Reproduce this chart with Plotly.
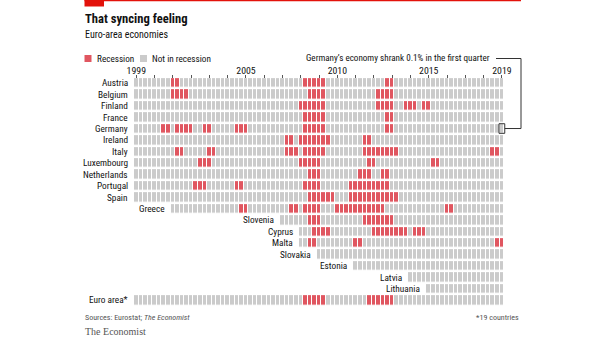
import numpy as np
import plotly.graph_objects as go

# ---------------- data ----------------
countries = ["Austria", "Belgium", "Finland", "France", "Germany", "Ireland", "Italy",
             "Luxembourg", "Netherlands", "Portugal", "Spain", "Greece", "Slovenia",
             "Cyprus", "Malta", "Slovakia", "Estonia", "Latvia", "Lithuania", "Euro area*"]
joined = ["1999Q1"] * 11 + ["2001Q1", "2007Q1", "2008Q1", "2008Q1", "2009Q1",
                            "2011Q1", "2014Q1", "2015Q1", "1999Q1"]
first_quarter = "1999Q1"
last_quarter = "2019Q1"

austria = [("2001Q1", "2001Q2"), ("2008Q2", "2009Q2"), ("2012Q4", "2013Q1")]
belgium = [("2001Q1", "2001Q4"), ("2008Q3", "2009Q2"), ("2012Q2", "2013Q1")]
finland = [("2008Q1", "2009Q2"), ("2012Q2", "2013Q1"), ("2013Q4", "2014Q2"), ("2014Q4", "2015Q1")]
france = [("2008Q2", "2009Q2"), ("2012Q4", "2013Q1")]
germany = [("2000Q3", "2000Q4"), ("2001Q2", "2002Q1"), ("2002Q4", "2003Q1"),
           ("2004Q3", "2005Q1"), ("2008Q2", "2009Q2"), ("2012Q4", "2013Q1")]
ireland = [("2007Q2", "2007Q3"), ("2008Q1", "2009Q3"), ("2011Q3", "2011Q4")]
italy = [("2001Q2", "2001Q3"), ("2003Q1", "2003Q2"), ("2007Q2", "2007Q4"),
         ("2008Q2", "2009Q2"), ("2011Q3", "2013Q2"), ("2018Q3", "2018Q4")]
luxembourg = [("2002Q3", "2003Q1"), ("2008Q1", "2009Q1"), ("2011Q4", "2012Q1"), ("2015Q2", "2015Q3")]
netherlands = [("2008Q3", "2009Q1"), ("2011Q2", "2011Q4"), ("2012Q3", "2012Q4")]
portugal = [("2002Q2", "2002Q4"), ("2004Q3", "2004Q4"), ("2008Q2", "2009Q1"), ("2010Q4", "2012Q4")]
spain = [("2008Q3", "2009Q4"), ("2010Q4", "2013Q2")]
greece = [("2004Q4", "2005Q1"), ("2007Q3", "2007Q4"), ("2008Q2", "2009Q1"),
          ("2010Q1", "2012Q3"), ("2016Q1", "2016Q2")]
slovenia = [("2008Q3", "2009Q1"), ("2011Q3", "2013Q1")]
cyprus = [("2008Q4", "2009Q3"), ("2012Q1", "2013Q4"), ("2014Q2", "2014Q4")]
malta = [("2008Q3", "2008Q4"), ("2011Q1", "2011Q2"), ("2018Q4", "2019Q1")]
slovakia = []
estonia = []
latvia = []
lithuania = []
euro_area = [("2008Q2", "2009Q2"), ("2011Q4", "2013Q1")]

spells = [austria, belgium, finland, france, germany, ireland, italy, luxembourg,
          netherlands, portugal, spain, greece, slovenia, cyprus, malta, slovakia,
          estonia, latvia, lithuania, euro_area]

tick_years = ["1999", "2005", "2010", "2015", "2019"]
minor_years = [str(y) for y in range(1999, 2020)]

# ---------------- build matrix ----------------
def qidx(s):
    return (int(s[:4]) - int(first_quarter[:4])) * 4 + int(s[-1]) - 1

n_q = qidx(last_quarter) + 1
z = np.full((len(countries), n_q), np.nan)
for r, (j, sp) in enumerate(zip(joined, spells)):
    z[r, qidx(j):] = 0
    for a, b in sp:
        z[r, qidx(a):qidx(b) + 1] = 1

RED = "#E05660"
GREY = "#CBCBCB"
FONT = "Liberation Sans Narrow, Arial Narrow, Roboto Condensed, Roboto, sans-serif"
W, H = 605, 341

# axis mapping (pixels)
pitch = 4.57
x0 = -0.5 - 134.0 / pitch
x1 = x0 + W / pitch
row_pitch = 11.43
row0 = 82.8
y_top = -row0 / row_pitch
y_bot = (H - row0) / row_pitch

def px(x):
    return x / W

def py(y):
    return 1 - y / H

fig = go.Figure()
fig.add_trace(go.Heatmap(
    z=z, x=list(range(n_q)), y=list(range(len(countries))),
    xgap=1, ygap=2.4, zmin=0, zmax=1,
    colorscale=[[0, GREY], [0.5, GREY], [0.5, RED], [1, RED]],
    showscale=False, hoverinfo="skip"))

annotations = []
for r, (c, j) in enumerate(zip(countries, joined)):
    annotations.append(dict(x=qidx(j) - 0.5, y=r, xref="x", yref="y", text=c,
                            xanchor="right", yanchor="middle", xshift=-4, showarrow=False,
                            font=dict(family=FONT, size=9.3, color="#111")))

def ptext(x, y, text, size, anchor="left", color="#111", family=FONT):
    annotations.append(dict(x=px(x), y=py(y), xref="paper", yref="paper", text=text,
                            xanchor=anchor, yanchor="middle", showarrow=False,
                            font=dict(family=family, size=size, color=color)))

ptext(83, 18.5, "<b>That syncing feeling</b>", 12.6)
ptext(83, 34, "Euro-area economies", 10)
ptext(94.5, 58.5, "Recession", 9.2)
ptext(149.5, 58.5, "Not in recession", 9.2)
ptext(492, 58.5, "Germany’s economy shrank 0.1% in the first quarter", 9.1, anchor="right")
ptext(83, 317.5, "Sources: Eurostat; <i>The Economist</i>", 8, color="#555")
ptext(521, 317.5, "*19 countries", 8, anchor="right", color="#555")
ptext(83, 331.5, "The Economist", 10, color="#555", family="Liberation Serif, DejaVu Serif, serif")

shapes = [
    dict(type="rect", xref="paper", yref="paper", x0=px(84.5), x1=px(521), y0=py(1.3), y1=py(0),
         fillcolor="#E3120B", line_width=0),
    dict(type="rect", xref="paper", yref="paper", x0=px(84.5), x1=px(104), y0=py(6.5), y1=py(0),
         fillcolor="#E3120B", line_width=0),
    dict(type="rect", xref="paper", yref="paper", x0=px(84.5), x1=px(91.5), y0=py(62), y1=py(55),
         fillcolor=RED, line_width=0),
    dict(type="rect", xref="paper", yref="paper", x0=px(140), x1=px(147), y0=py(62), y1=py(55),
         fillcolor=GREY, line_width=0),
]
# annotation box around Germany 2019Q1
gi = countries.index("Germany")
lq = qidx(last_quarter)
shapes.append(dict(type="rect", xref="x", yref="y", x0=lq - 0.63, x1=lq + 0.63,
                   y0=gi - 0.42, y1=gi + 0.42, line=dict(color="#333", width=1)))
box_right = (lq + 0.63 - x0) / (x1 - x0)
gy = py(row0 + gi * row_pitch)
lc = dict(color="#333", width=1)
shapes += [
    dict(type="line", xref="paper", yref="paper", x0=px(496), x1=px(521), y0=py(58.5), y1=py(58.5), line=lc),
    dict(type="line", xref="paper", yref="paper", x0=px(521), x1=px(521), y0=py(58.5), y1=gy, line=lc),
    dict(type="line", xref="paper", yref="paper", x0=px(521), x1=box_right, y0=gy, y1=gy, line=lc),
]

fig.update_layout(
    width=W, height=H, autosize=False,
    margin=dict(l=0, r=0, t=0, b=0),
    paper_bgcolor="white", plot_bgcolor="white",
    showlegend=False,
    annotations=annotations, shapes=shapes,
    xaxis=dict(range=[x0, x1], anchor="free", position=py(77.5), side="top",
               tickmode="array", tickvals=[qidx(y + "Q1") for y in tick_years], ticktext=tick_years,
               ticks="outside", ticklen=3, tickwidth=1, tickcolor="#555",
               ticklabelstandoff=-3,
               tickfont=dict(family=FONT, size=9.8, color="#111"),
               showgrid=False, zeroline=False, showline=False,
               minor=dict(tickmode="array", tickvals=[qidx(y + "Q1") for y in minor_years],
                          ticks="outside", ticklen=3,
                          tickwidth=1, tickcolor="#555", showgrid=False)),
    yaxis=dict(range=[y_bot, y_top], visible=False, showgrid=False, zeroline=False),
)

fig.write_html("out.html")
